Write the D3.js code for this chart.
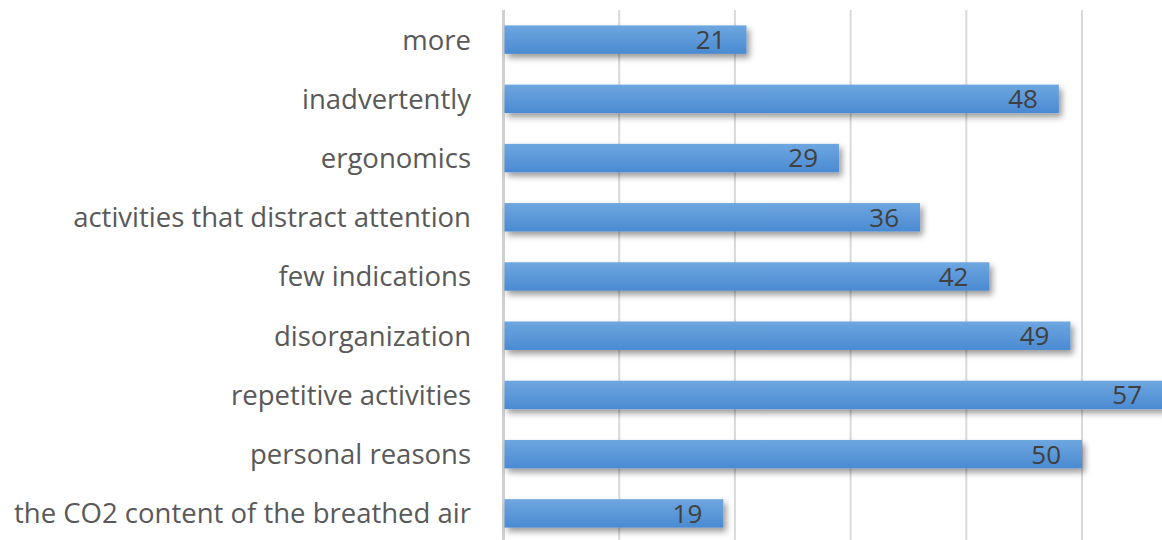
<!DOCTYPE html>
<html><head><meta charset="utf-8">
<script src="https://cdn.jsdelivr.net/npm/d3@7"></script>
<style>body{margin:0;background:#fff}svg{display:block}</style>
</head><body>
<svg id="c" width="1162" height="540"></svg>
<script>
const categories = ["more","inadvertently","ergonomics","activities that distract attention","few indications","disorganization","repetitive activities","personal reasons","the CO2 content of the breathed air"];
const values = [21,48,29,36,42,49,57,50,19];
const ticks = [0,10,20,30,40,50];

const svg = d3.select("#c");
const x = d3.scaleLinear().domain([0,57]).range([503.5,1163]);
const y = d3.scaleBand().domain(categories).range([10,543]).paddingInner(0.52).paddingOuter(0.26);

const defs = svg.append("defs");
const g = defs.append("linearGradient").attr("id","bg").attr("x1",0).attr("y1",0).attr("x2",0).attr("y2",1);
g.append("stop").attr("offset","0%").attr("stop-color","#6ea7e0");
g.append("stop").attr("offset","100%").attr("stop-color","#4a8ad2");
const f = defs.append("filter").attr("id","sh").attr("x","-5%").attr("y","-30%").attr("width","115%").attr("height","180%");
f.append("feDropShadow").attr("dx",3).attr("dy",4).attr("stdDeviation",3).attr("flood-color","#000").attr("flood-opacity",0.4);

svg.append("g").selectAll("line").data(ticks.slice(1)).join("line")
  .attr("x1",d=>x(d)).attr("x2",d=>x(d)).attr("y1",10).attr("y2",540)
  .attr("stroke","#d9d9d9").attr("stroke-width",2);
svg.append("line").attr("x1",x(0)).attr("x2",x(0)).attr("y1",10).attr("y2",540)
  .attr("stroke","#d0d0d0").attr("stroke-width",3);

svg.append("g").selectAll("rect").data(values).join("rect")
  .attr("x",x(0)+1).attr("y",(d,i)=>y(categories[i]))
  .attr("width",d=>x(d)-x(0)-1).attr("height",y.bandwidth())
  .attr("fill","url(#bg)").attr("filter","url(#sh)");

svg.append("g").selectAll("text").data(values).join("text")
  .attr("x",d=>x(d)-21).attr("y",(d,i)=>y(categories[i])+y.bandwidth()/2)
  .attr("dy","0.36em").attr("text-anchor","end")
  .attr("font-family","Open Sans, sans-serif").attr("font-size",26).attr("fill","#404040")
  .text(d=>d);

svg.append("g").selectAll("text").data(categories).join("text")
  .attr("x",471).attr("y",d=>y(d)+y.bandwidth()/2)
  .attr("dy","0.36em").attr("text-anchor","end")
  .attr("font-family","Open Sans, sans-serif").attr("font-size",27.5).attr("fill","#595959")
  .text(d=>d);
</script>
</body></html>
